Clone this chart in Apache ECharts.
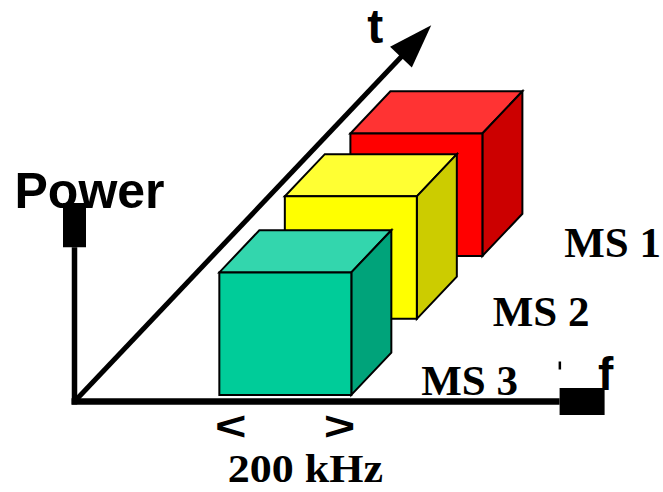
<!DOCTYPE html>
<html><head><meta charset="utf-8">
<script src="https://cdn.jsdelivr.net/npm/echarts@6/dist/echarts.min.js"></script>
<style>html,body{margin:0;padding:0;background:#fff}#c{width:663px;height:492px}</style>
</head><body><div id="c"></div>
<script>
// ---- data ----
const users = ['MS 1', 'MS 2', 'MS 3'];          // mobile stations (back to front)
const fStart = [209, 200, 210];                    // kHz, start of each carrier block
const tStart = [1990, 1130, 90];                   // µs along the t axis
const power = [1.0, 1.0, 1.0];                     // relative power (cube height)
const bandwidth = 200;                             // kHz
const slotDuration = 577;                          // µs (cube depth)
const bandwidthLabel = '200 kHz';
const axisNames = ['f', 't', 'Power'];
const fAxisEnd = 735;                              // kHz
const tAxisEnd = 5146;                             // µs (arrow tip)
const pAxisEnd = 1.26;                             // relative power
const pAxisCapEnd = 1.62;

const faceColors = [
  { front: '#FF0000', top: '#FF3333', side: '#CC0000' },
  { front: '#FFFF00', top: '#FFFF33', side: '#CCCC00' },
  { front: '#00CC99', top: '#33D6AD', side: '#00A37A' }
];

// oblique projection of the time axis onto (f, power)
const KF = 0.10503, KP = 0.000597;
function P(api, f, t, p) { return api.coord([f + t * KF, p + t * KP]); }

function txt(text, x, y, font, align, scaleX) {
  return { type: 'text', x, y, scaleX: scaleX || 1,
    style: { text, x: 0, y: 0, font, fill: '#000',
      align: align || 'center', verticalAlign: 'middle',
      textAlign: align || 'center', textVerticalAlign: 'middle' } };
}

const chart = echarts.init(document.getElementById('c'), null, { renderer: 'svg' });
chart.setOption({
  animation: false,
  backgroundColor: '#fff',
  grid: { left: 74.5, right: 60.5, top: 34, bottom: 90.5 },
  xAxis: { type: 'value', min: 0, max: 800, show: false },
  yAxis: { type: 'value', min: 0, max: 3, show: false },
  series: [
    {
      type: 'custom', name: 'axes', z: 1, clip: false, silent: true,
      data: [[fAxisEnd, tAxisEnd, pAxisEnd, pAxisCapEnd]],
      renderItem(params, api) {
        const o = P(api, 0, 0, 0);
        const fe = P(api, api.value(0), 0, 0);
        const te = P(api, 0, api.value(1), 0);
        const pe = P(api, 0, 0, api.value(2));
        const pc = P(api, 0, 0, api.value(3));
        const dx = te[0] - o[0], dy = te[1] - o[1], L = Math.hypot(dx, dy);
        const ux = dx / L, uy = dy / L, nx = -uy, ny = ux;
        const headLen = 44, headHalf = 15;
        const base = [te[0] - ux * headLen, te[1] - uy * headLen];
        return { type: 'group', children: [
          txt(axisNames[0], fe[0] + 46, fe[1] - 28, 'bold 46px "Liberation Sans"'),
          txt(axisNames[1], te[0] - 56, te[1] + 1, 'bold 48px "Liberation Sans"'),
          txt(axisNames[2], pc[0] - 60, pc[1] - 12, 'bold 50px "Liberation Sans"', 'left'),
          { type: 'line', shape: { x1: o[0], y1: o[1], x2: base[0] + ux * 4, y2: base[1] + uy * 4 },
            style: { stroke: '#000', lineWidth: 5 } },
          { type: 'polygon', shape: { points: [te,
              [base[0] + nx * headHalf, base[1] + ny * headHalf],
              [base[0] - nx * headHalf, base[1] - ny * headHalf]] },
            style: { fill: '#000' } },
          { type: 'line', shape: { x1: o[0] - 3, y1: o[1], x2: fe[0], y2: fe[1] },
            style: { stroke: '#000', lineWidth: 6.5 } },
          { type: 'line', shape: { x1: o[0], y1: o[1] + 3, x2: pe[0], y2: pe[1] },
            style: { stroke: '#000', lineWidth: 5.5 } },
          { type: 'rect', shape: { x: pc[0] - 11.5, y: pc[1], width: 23, height: pe[1] - pc[1] },
            style: { fill: '#000' } },
          { type: 'rect', shape: { x: fe[0], y: fe[1] - 13.5, width: 45, height: 27 },
            style: { fill: '#000' } },
          { type: 'rect', shape: { x: fe[0] - 1, y: fe[1] - 40, width: 2.5, height: 8 },
            style: { fill: '#000' } }
        ] };
      }
    },
    {
      type: 'custom', name: 'cubes', z: 2, clip: false, silent: true,
      data: users.map((u, i) => [fStart[i], tStart[i], power[i]]),
      renderItem(params, api) {
        const i = params.dataIndex;
        const f0 = api.value(0), t0 = api.value(1), h = api.value(2);
        const f1 = f0 + bandwidth, t1 = t0 + slotDuration;
        const c = faceColors[i];
        const face = (pts, fill) => ({ type: 'polygon', shape: { points: pts },
          style: { fill, stroke: '#000', lineWidth: 2, lineJoin: 'miter' } });
        return { type: 'group', children: [
          face([P(api, f0, t0, h), P(api, f1, t0, h), P(api, f1, t1, h), P(api, f0, t1, h)], c.top),
          face([P(api, f1, t0, 0), P(api, f1, t1, 0), P(api, f1, t1, h), P(api, f1, t0, h)], c.side),
          face([P(api, f0, t0, 0), P(api, f1, t0, 0), P(api, f1, t0, h), P(api, f0, t0, h)], c.front)
        ] };
      }
    },
    {
      type: 'custom', name: 'labels', z: 3, clip: false, silent: true,
      data: users.map((u, i) => [fAxisEnd, users.length - 1 - i]),
      renderItem(params, api) {
        // labels stacked evenly along the t direction, to the right of the cubes
        const fe = P(api, api.value(0), 0, 0);
        const k = api.value(1);
        return txt(users[params.dataIndex], fe[0] - 90 + k * 71.5, fe[1] - 21 - k * 69,
          'bold 43px "Liberation Serif"');
      }
    },
    {
      type: 'custom', name: 'bandwidth', z: 3, clip: false, silent: true,
      data: [[fStart[2], tStart[2], bandwidth]],
      renderItem(params, api) {
        const f0 = api.value(0), t0 = api.value(1), bw = api.value(2);
        const a = P(api, f0, t0, 0), b = P(api, f0 + bw, t0, 0);
        return { type: 'group', children: [
          txt('<', a[0] + 11.5, a[1] + 31, 'bold 40px "Liberation Sans"', 'center', 1.35),
          txt('>', b[0] - 11.7, b[1] + 31, 'bold 40px "Liberation Sans"', 'center', 1.35),
          txt(bandwidthLabel, (a[0] + b[0]) / 2 + 20, a[1] + 73.5, 'bold 40px "Liberation Serif"', 'center', 1.1)
        ] };
      }
    }
  ]
});
</script>
</body></html>
